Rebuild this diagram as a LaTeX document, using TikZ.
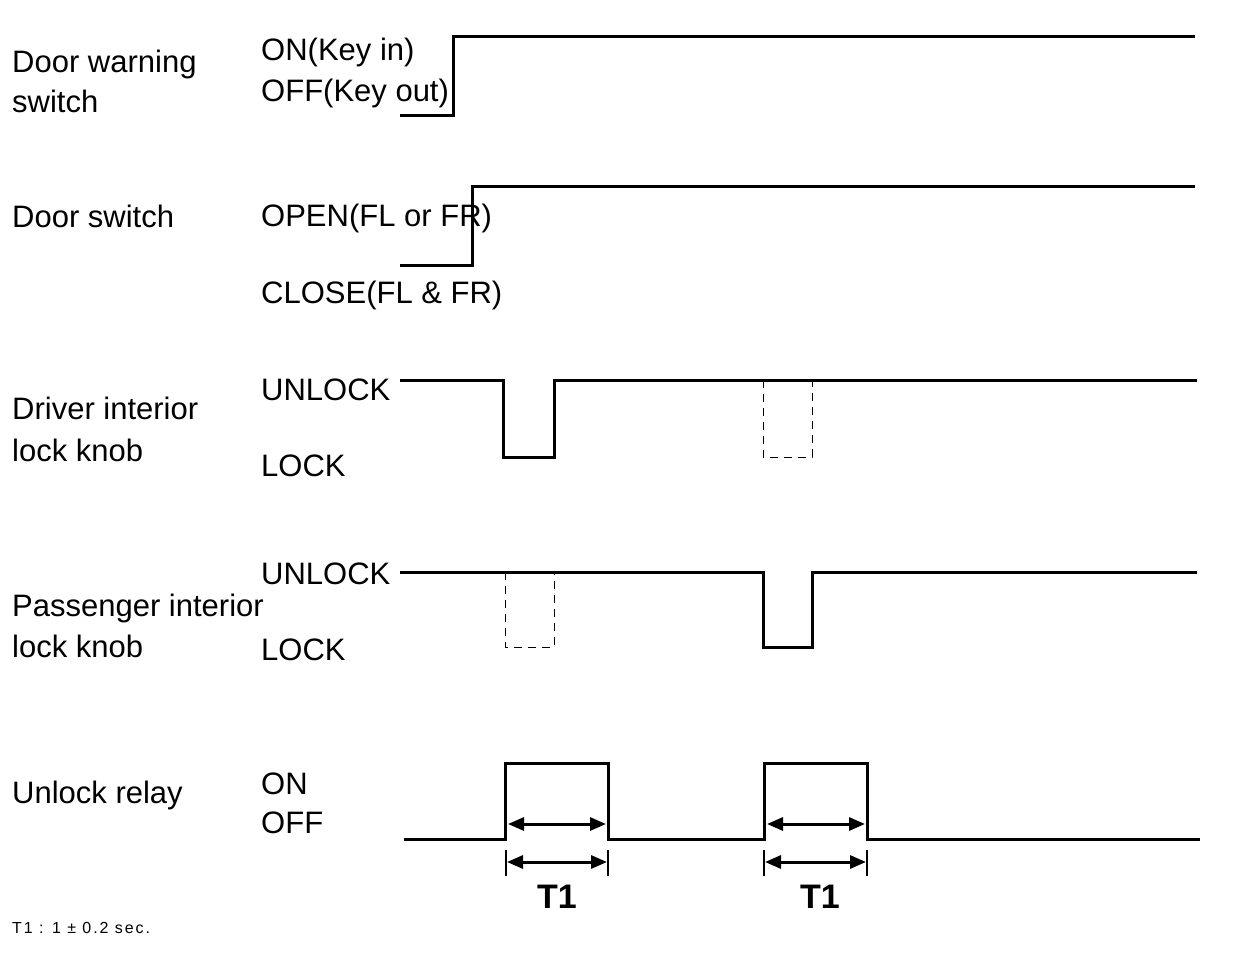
\documentclass[tikz,border=0pt]{standalone}
\usepackage{fontspec}
\setmainfont{Liberation Sans}
\usetikzlibrary{arrows.meta}
\begin{document}
\begin{tikzpicture}[x=1pt,y=-1pt,
  lbl/.style={anchor=base west,inner sep=0pt,font=\fontsize{31}{36}\selectfont},
  wave/.style={line width=3pt,line join=miter},
  ghost/.style={line width=1pt,dash pattern=on 8pt off 6pt},
  dim/.style={line width=3pt,{Triangle[length=16pt,width=13pt]}-{Triangle[length=16pt,width=13pt]},shorten <=-1pt,shorten >=-1pt},
  tick/.style={line width=2.5pt},
  tlbl/.style={inner sep=0pt,font=\fontsize{34}{40}\selectfont\bfseries}]
\useasboundingbox[fill=white] (0,0) rectangle (1248,958);
% left labels
\node[lbl] (l1a) at (12,73) {Door warning};
\node[lbl] (l1b) at (12,113) {switch};
\node[lbl] (l2) at (12,227) {Door switch};
\node[lbl] (l3a) at (12,419) {Driver interior};
\node[lbl] (l3b) at (12,461) {lock knob};
\node[lbl] (l4a) at (12,616) {Passenger interior};
\node[lbl] (l4b) at (12,657) {lock knob};
\node[lbl] (l5) at (12,803) {Unlock relay};
% state labels
\node[lbl] (s1a) at (261,61) {ON(Key in)};
\node[lbl] (s1b) at (261,102) {OFF(Key out)};
\node[lbl] (s2a) at (261,226) {OPEN(FL or FR)};
\node[lbl] (s2b) at (261,303) {CLOSE(FL \& FR)};
\node[lbl] (s3a) at (261,400) {UNLOCK};
\node[lbl] (s3b) at (261,476) {LOCK};
\node[lbl] (s4a) at (261,584) {UNLOCK};
\node[lbl] (s4b) at (261,660) {LOCK};
\node[lbl] (s5a) at (261,794) {ON};
\node[lbl] (s5b) at (261,833) {OFF};
% waveforms
\draw[wave] (400,115) -- (453,115) -- (453,37) -- (1195,37);
\draw[wave] (400,265) -- (472,265) -- (472,186) -- (1195,186);
\draw[wave] (400,380) -- (503,380) -- (503,457) -- (554,457) -- (554,380) -- (1197,380);
\draw[ghost] (763,380) -- (763,457) -- (812,457) -- (812,380);
\draw[wave] (400,572) -- (763,572) -- (763,647) -- (812,647) -- (812,572) -- (1197,572);
\draw[ghost] (505,572) -- (505,647) -- (554,647) -- (554,572);
\draw[wave] (404,839) -- (505,839) -- (505,763) -- (608,763) -- (608,839) -- (764,839) -- (764,763) -- (867,763) -- (867,839) -- (1200,839);
% T1 dimensions
\coordinate (a1) at (509,824); \coordinate (b1) at (605,824);
\coordinate (a2) at (768,824); \coordinate (b2) at (864,824);
\draw[dim] (a1) -- (b1);
\draw[dim] (a2) -- (b2);
\coordinate (t1a) at (506,850); \coordinate (t1b) at (506,876);
\coordinate (t2a) at (608,850); \coordinate (t2b) at (608,876);
\coordinate (t3a) at (764,850); \coordinate (t3b) at (764,876);
\coordinate (t4a) at (867,850); \coordinate (t4b) at (867,876);
\draw[tick] (t1a) -- (t1b); \draw[tick] (t2a) -- (t2b);
\draw[tick] (t3a) -- (t3b); \draw[tick] (t4a) -- (t4b);
\coordinate (c1) at (508,862); \coordinate (d1) at (606,862);
\coordinate (c2) at (766,862); \coordinate (d2) at (865,862);
\draw[dim] (c1) -- (d1);
\draw[dim] (c2) -- (d2);
\node[tlbl] (T1a) at (557,897) {T1};
\node[tlbl] (T1b) at (820,897) {T1};
\node[anchor=base west,inner sep=0pt,font=\fontsize{16}{19}\selectfont\addfontfeature{LetterSpace=12}] (note) at (12,933) {T1 : 1 ± 0.2 sec.};
\end{tikzpicture}
\end{document}
